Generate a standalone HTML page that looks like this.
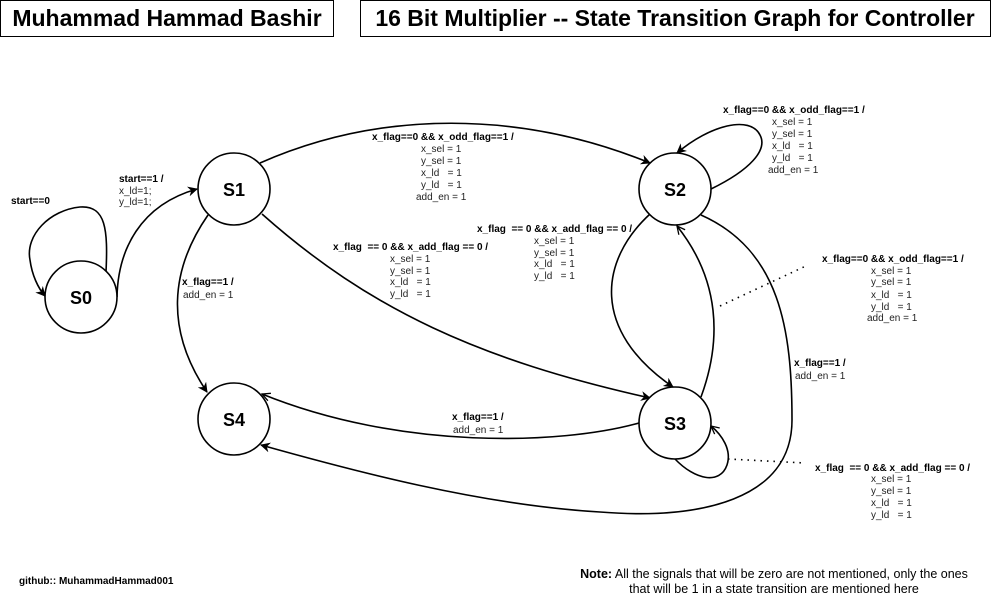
<!DOCTYPE html>
<html><head><meta charset="utf-8"><style>
html,body{margin:0;padding:0;background:#fff;}
svg{display:block;font-family:"Liberation Sans",Arial,sans-serif;}
.b{font-weight:bold;font-size:10px;fill:#000}
.n{font-size:10px;fill:#222}
</style></head><body>
<svg width="991" height="604" viewBox="0 0 991 604" xmlns="http://www.w3.org/2000/svg">
<defs>
<marker id="a" markerWidth="10" markerHeight="10" refX="9" refY="5" orient="auto" markerUnits="userSpaceOnUse"><path d="M0,0 L10,5 L0,10 L3,5 Z" fill="#000"/></marker>
<marker id="o" markerWidth="10" markerHeight="10" refX="9" refY="5" orient="auto" markerUnits="userSpaceOnUse"><path d="M1,1 L9,5 L1,9" fill="none" stroke="#000" stroke-width="1.3"/></marker>
</defs>
<rect x="0.5" y="0.5" width="333" height="36" fill="#fff" stroke="#000"/>
<text x="167" y="26" text-anchor="middle" font-weight="bold" font-size="23">Muhammad Hammad Bashir</text>
<rect x="360.5" y="0.5" width="630" height="36" fill="#fff" stroke="#000"/>
<text x="675" y="26" text-anchor="middle" font-weight="bold" font-size="23">16 Bit Multiplier -- State Transition Graph for Controller</text>

<g fill="none" stroke="#000" stroke-width="1.6">
<path d="M106,272 C108,230 106,205 80,207 C50,210 25,235 30,260 C32,275 38,288 45,296" marker-end="url(#a)"/>
<path d="M117,297 C118,250 140,205 197,189" marker-end="url(#a)"/>
<path d="M260,163 C380,110 520,110 650,163" marker-end="url(#a)"/>
<path d="M262,214 C370,310 480,360 650,398" marker-end="url(#a)"/>
<path d="M208,215 C170,270 165,330 207,392" marker-end="url(#a)"/>
<path d="M711,189 C750,170 768,150 760,135 C750,115 710,125 677,153" marker-end="url(#a)"/>
<path d="M650,214 C600,260 590,330 673,387" marker-end="url(#a)"/>
<path d="M701,397 C722,340 720,280 677,226" marker-end="url(#o)"/>
<path d="M701,215 C780,250 792,330 792,420 C792,500 700,520 600,512 C480,505 350,470 261,445" marker-end="url(#a)"/>
<path d="M639,423 C560,445 400,450 262,394" marker-end="url(#o)"/>
<path d="M675,459 C695,480 720,485 727,465 C732,450 722,435 711,426" marker-end="url(#o)"/>
</g>
<g fill="none" stroke="#000" stroke-width="1.6" stroke-dasharray="1.5,5">
<path d="M720,306 L808,265"/>
<path d="M728,459 L805,463"/>
</g>
<g fill="#fff" stroke="#000" stroke-width="1.6">
<circle cx="81" cy="297" r="36"/><circle cx="234" cy="189" r="36"/>
<circle cx="675" cy="189" r="36"/><circle cx="675" cy="423" r="36"/>
<circle cx="234" cy="419" r="36"/>
</g>
<g font-weight="bold" font-size="18" text-anchor="middle">
<text x="81" y="304">S0</text><text x="234" y="196">S1</text>
<text x="675" y="196">S2</text><text x="675" y="430">S3</text>
<text x="234" y="426">S4</text>
</g>

<text class="b" x="11" y="204">start==0</text>
<text class="b" x="119" y="182">start==1 /</text>
<text class="n" x="119" y="194">x_ld=1;</text>
<text class="n" x="119" y="205">y_ld=1;</text>

<text class="b" x="372" y="140">x_flag==0 &amp;&amp; x_odd_flag==1 /</text>
<g class="n"><text x="421" y="152">x_sel = 1</text><text x="421" y="164">y_sel = 1</text><text x="421" y="176">x_ld&#160;&#160;&#160;= 1</text><text x="421" y="188">y_ld&#160;&#160;&#160;= 1</text><text x="416" y="200">add_en = 1</text></g>

<text class="b" x="333" y="250">x_flag&#160;&#160;== 0 &amp;&amp; x_add_flag == 0 /</text>
<g class="n"><text x="390" y="262">x_sel = 1</text><text x="390" y="274">y_sel = 1</text><text x="390" y="285">x_ld&#160;&#160;&#160;= 1</text><text x="390" y="297">y_ld&#160;&#160;&#160;= 1</text></g>

<text class="b" x="477" y="232">x_flag&#160;&#160;== 0 &amp;&amp; x_add_flag == 0 /</text>
<g class="n"><text x="534" y="244">x_sel = 1</text><text x="534" y="256">y_sel = 1</text><text x="534" y="267">x_ld&#160;&#160;&#160;= 1</text><text x="534" y="279">y_ld&#160;&#160;&#160;= 1</text></g>

<text class="b" x="182" y="285">x_flag==1 /</text>
<text class="n" x="183" y="298">add_en = 1</text>

<text class="b" x="723" y="113">x_flag==0 &amp;&amp; x_odd_flag==1 /</text>
<g class="n"><text x="772" y="125">x_sel = 1</text><text x="772" y="137">y_sel = 1</text><text x="772" y="149">x_ld&#160;&#160;&#160;= 1</text><text x="772" y="161">y_ld&#160;&#160;&#160;= 1</text><text x="768" y="173">add_en = 1</text></g>

<text class="b" x="822" y="262">x_flag==0 &amp;&amp; x_odd_flag==1 /</text>
<g class="n"><text x="871" y="274">x_sel = 1</text><text x="871" y="285">y_sel = 1</text><text x="871" y="298">x_ld&#160;&#160;&#160;= 1</text><text x="871" y="310">y_ld&#160;&#160;&#160;= 1</text><text x="867" y="321">add_en = 1</text></g>

<text class="b" x="794" y="366">x_flag==1 /</text>
<text class="n" x="795" y="379">add_en = 1</text>

<text class="b" x="452" y="420">x_flag==1 /</text>
<text class="n" x="453" y="433">add_en = 1</text>

<text class="b" x="815" y="471">x_flag&#160;&#160;== 0 &amp;&amp; x_add_flag == 0 /</text>
<g class="n"><text x="871" y="482">x_sel = 1</text><text x="871" y="494">y_sel = 1</text><text x="871" y="506">x_ld&#160;&#160;&#160;= 1</text><text x="871" y="518">y_ld&#160;&#160;&#160;= 1</text></g>

<text class="b" x="19" y="584">github:: MuhammadHammad001</text>
<text x="774" y="578" text-anchor="middle" font-size="12.5"><tspan font-weight="bold">Note:</tspan> All the signals that will be zero are not mentioned, only the ones</text>
<text x="774" y="593" text-anchor="middle" font-size="12.5">that will be 1 in a state transition are mentioned here</text>
</svg>
</body></html>
